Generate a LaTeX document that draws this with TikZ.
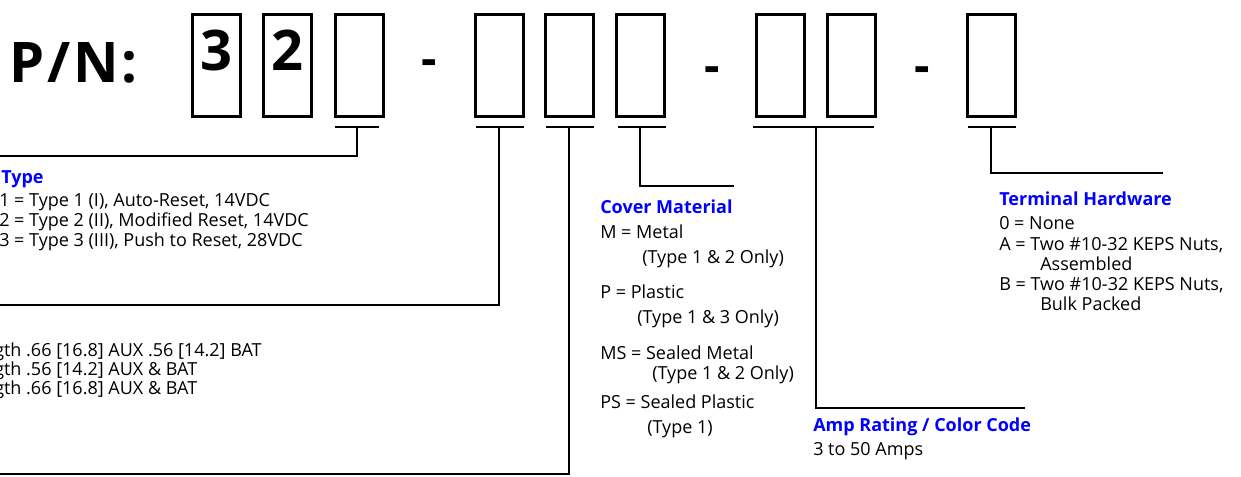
\documentclass[tikz,border=0pt]{standalone}
\usepackage{fontspec}
\setmainfont{Open Sans}
\begin{document}
\begin{tikzpicture}[x=0.75pt,y=-0.75pt,
  box/.style={draw, line width=2.25pt, minimum width=36pt, minimum height=76.5pt, inner sep=0pt},
  digit/.style={anchor=base, inner sep=0pt, font=\bfseries\fontsize{42}{42}\selectfont},
  pn/.style={anchor=base west, inner sep=0pt, font=\bfseries\fontsize{42}{42}\selectfont\addfontfeature{LetterSpace=5}},
  hyph/.style={anchor=base, inner sep=0pt, font=\bfseries\fontsize{36}{36}\selectfont},
  bar/.style={line width=1.5pt},
  conn/.style={line width=1.5pt},
  txt/.style={anchor=base west, inner sep=0pt, font=\fontsize{13.5}{15}\selectfont},
  head/.style={anchor=base west, inner sep=0pt, text=blue, font=\bfseries\fontsize{13.5}{15}\selectfont}]
\useasboundingbox (0,0) rectangle (1241,476);

% title
\node[pn] (pn) at (9,82) {P/N:};

% boxes
\node[box] (b1) at (216,65.5) {};
\node[box] (b2) at (287.5,65.5) {};
\node[box] (b3) at (359.5,65.5) {};
\node[box] (b4) at (499.5,65.5) {};
\node[box] (b5) at (569.5,65.5) {};
\node[box] (b6) at (640.5,65.5) {};
\node[box] (b7) at (780.5,65.5) {};
\node[box] (b8) at (851.5,65.5) {};
\node[box] (b9) at (991,65.5) {};
\node[digit] (d1) at (216,70) {3};
\node[digit] (d2) at (287.5,70) {2};

% hyphens
\node[hyph] (h1) at (429,75) {-};
\node[hyph] (h2) at (712,82) {-};
\node[hyph] (h3) at (922.5,82) {-};

% bars
\coordinate (l3) at (335,127); \coordinate (r3) at (379,127); \coordinate (t3) at (357,127);
\coordinate (l4) at (476,127); \coordinate (r4) at (524,127); \coordinate (t4) at (499,127);
\coordinate (l5) at (546,127); \coordinate (r5) at (594,127); \coordinate (t5) at (569,127);
\coordinate (l6) at (618,127); \coordinate (r6) at (666,127); \coordinate (t6) at (640,127);
\coordinate (l7) at (753,127); \coordinate (r7) at (874,127); \coordinate (t7) at (816,127);
\coordinate (l9) at (968,127); \coordinate (r9) at (1016,127); \coordinate (t9) at (991,127);
\foreach \i in {3,4,5,6,7,9} { \draw[bar] (l\i) -- (r\i); }

% connector ends
\coordinate (e3) at (-5,156);
\coordinate (e4) at (-5,305);
\coordinate (e5) at (-5,474);
\coordinate (e6) at (734,186);
\coordinate (e7) at (1025,408);
\coordinate (e9) at (1163,173);
\foreach \i in {3,4,5,6,7,9} { \draw[conn] (t\i) |- (e\i); }

% Type
\node[head] (typeh) at (1,183) {Type};
\node[txt] (type1) at (-1,206) {1 = Type 1 (I), Auto-Reset, 14VDC};
\node[txt] (type2) at (-1,226) {2 = Type 2 (II), Modified Reset, 14VDC};
\node[txt] (type3) at (-1,246) {3 = Type 3 (III), Push to Reset, 28VDC};

% length
\node[txt] (len1) at (-6,356) {gth .66 [16.8] AUX .56 [14.2] BAT};
\node[txt] (len2) at (-6,375) {gth .56 [14.2] AUX \& BAT};
\node[txt] (len3) at (-6,394) {gth .66 [16.8] AUX \& BAT};

% cover material
\node[head] (covh) at (600,213) {Cover Material};
\node[txt] (cov1) at (600,238) {M = Metal};
\node[txt] (cov1b) at (642,263) {(Type 1 \& 2 Only)};
\node[txt] (cov2) at (600,298) {P = Plastic};
\node[txt] (cov2b) at (637,323) {(Type 1 \& 3 Only)};
\node[txt] (cov3) at (600,359) {MS = Sealed Metal};
\node[txt] (cov3b) at (652,379) {(Type 1 \& 2 Only)};
\node[txt] (cov4) at (600,408) {PS = Sealed Plastic};
\node[txt] (cov4b) at (647,433) {(Type 1)};

% amp rating
\node[head] (amph) at (813,431) {Amp Rating / Color Code};
\node[txt] (amp1) at (813,455) {3 to 50 Amps};

% terminal hardware
\node[head] (termh) at (999,205) {Terminal Hardware};
\node[txt] (term0) at (999,229) {0 = None};
\node[txt] (termA) at (999,250) {A = Two \#10-32 KEPS Nuts,};
\node[txt] (termAb) at (1040,270) {Assembled};
\node[txt] (termB) at (999,290) {B = Two \#10-32 KEPS Nuts,};
\node[txt] (termBb) at (1040,310) {Bulk Packed};
\end{tikzpicture}
\end{document}
